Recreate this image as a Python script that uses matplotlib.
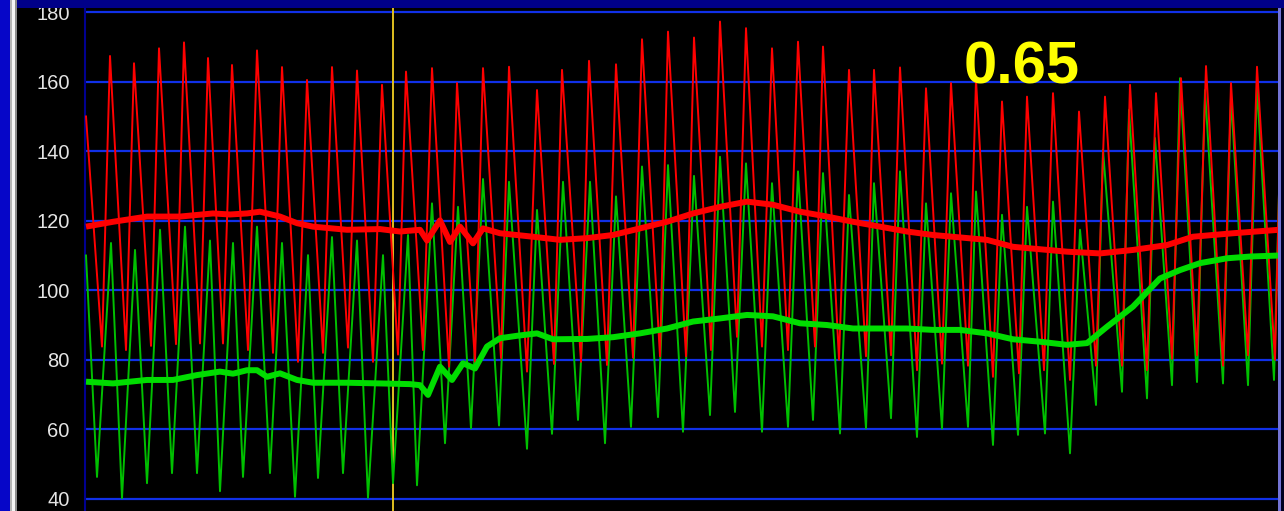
import matplotlib
matplotlib.use("Agg")
import matplotlib.pyplot as plt
from matplotlib.patches import Rectangle

# x positions are in screen-sample units (same as the trace's time axis)
red_x = [86, 102, 110, 126, 134, 151, 159, 176, 184, 200, 208, 223, 232, 248, 257, 273, 282,
         298, 307, 323, 332, 348, 357, 373, 382, 398, 406, 423, 432, 449, 457, 475, 483, 501,
         509, 527, 537, 554, 562, 581, 589, 607, 616, 633, 642, 660, 668, 686, 694, 711, 720,
         737, 746, 762, 772, 788, 798, 815, 823, 839, 849, 866, 874, 891, 900, 917, 926, 942,
         951, 968, 976, 993, 1002, 1019, 1027, 1044, 1053, 1070, 1079, 1096, 1105, 1122, 1130,
         1147, 1156, 1172, 1181, 1197, 1206, 1223, 1231, 1248, 1257, 1275, 1279]
red_y = [150, 83.8, 167.4, 82.8, 165.3, 84.0, 169.6, 84.5, 171.3, 84.7, 166.8, 84.7, 164.8, 82.8,
         169.0, 82.0, 164.2, 79.4, 160.5, 82.0, 164.2, 83.5, 163.2, 79.4, 159.1, 81.5, 162.9,
         82.8, 163.9, 78.0, 159.6, 79.4, 163.9, 80.5, 164.3, 76.6, 157.6, 78.8, 163.4, 79.4,
         166.0, 78.5, 165.0, 80.6, 172.2, 81.0, 174.4, 81.0, 172.7, 82.8, 177.3, 86.6, 175.4,
         83.8, 169.6, 82.8, 171.5, 83.8, 170.1, 80.0, 163.4, 81.0, 163.4, 81.3, 164.1, 77.0,
         158.1, 78.9, 159.6, 78.3, 160.5, 75.1, 154.3, 76.1, 155.7, 77.0, 156.7, 74.2, 151.4,
         78.3, 155.7, 78.3, 159.1, 77.0, 156.7, 80.3, 161.0, 81.3, 164.5, 78.3, 159.6, 81.3,
         164.3, 80.0, 128.0]

green_x = [86, 97, 111, 122, 135, 147, 160, 172, 185, 197, 210, 220, 233, 243, 257, 270, 282,
           295, 308, 318, 332, 343, 357, 368, 383, 393, 408, 417, 432, 445, 458, 471, 483, 499,
           509, 527, 537, 552, 563, 578, 590, 605, 616, 631, 642, 658, 668, 683, 694, 710, 720,
           735, 746, 762, 772, 788, 798, 813, 823, 840, 849, 866, 874, 891, 900, 917, 926, 942,
           951, 968, 976, 993, 1002, 1018, 1027, 1045, 1053, 1070, 1080, 1096, 1103, 1122, 1129,
           1147, 1155, 1172, 1180, 1197, 1205, 1223, 1231, 1248, 1257, 1274, 1279]
green_y = [110, 46.3, 113.6, 40.2, 111.6, 44.5, 117.4, 47.4, 118.3, 47.4, 114.3, 42.2, 113.6,
           46.3, 118.3, 47.4, 113.6, 40.6, 110.1, 46.0, 115.3, 47.4, 114.3, 40.3, 110.1, 44.5,
           115.9, 43.9, 125.0, 56.0, 124.0, 60.3, 132.0, 61.1, 131.2, 54.4, 123.1, 58.7, 131.2,
           62.7, 131.2, 56.0, 127.0, 60.7, 135.6, 63.5, 136.0, 59.3, 132.9, 64.1, 138.4, 65.0,
           136.5, 59.3, 130.8, 60.7, 134.2, 62.7, 133.7, 58.8, 127.4, 60.3, 130.8, 63.2, 134.2,
           57.8, 125.0, 60.2, 127.9, 60.7, 128.4, 55.5, 121.7, 58.4, 124.0, 58.8, 125.5, 53.1,
           117.4, 67.0, 140.4, 70.8, 151.9, 68.9, 143.8, 72.7, 161.0, 73.6, 157.6, 73.2, 155.7,
           72.7, 158.6, 74.2, 128.0]

red_mean_x = [86, 113, 147, 180, 213, 230, 247, 260, 280, 297, 313, 347, 380, 400, 420, 427,
              440, 450, 460, 473, 483, 500, 533, 560, 587, 613, 640, 667, 693, 720, 747, 773,
              800, 827, 853, 880, 907, 933, 960, 987, 1013, 1040, 1067, 1100, 1133, 1167, 1193,
              1233, 1279]
red_mean = [118.3, 119.7, 121.2, 121.2, 122.1, 121.8, 122.1, 122.6, 121.2, 119.3, 118.3, 117.4,
            117.6, 116.9, 117.4, 114.3, 120.1, 113.9, 118.3, 113.5, 117.8, 116.4, 115.4, 114.5,
            115.0, 115.9, 117.8, 119.7, 122.1, 124.0, 125.5, 124.6, 122.6, 121.2, 119.7, 118.3,
            116.9, 115.9, 115.2, 114.5, 112.5, 111.8, 111.1, 110.6, 111.6, 113.0, 115.4, 116.4,
            117.4]

green_mean_x = [86, 113, 147, 173, 197, 220, 233, 247, 257, 267, 280, 297, 313, 347, 380, 410,
                420, 428, 440, 452, 463, 475, 487, 500, 517, 537, 553, 587, 613, 640, 667, 693,
                720, 747, 773, 800, 827, 853, 880, 907, 933, 960, 987, 1013, 1040, 1067, 1087,
                1107, 1133, 1160, 1180, 1200, 1227, 1250, 1279]
green_mean = [73.7, 73.2, 74.2, 74.2, 75.6, 76.6, 76.0, 77.0, 77.0, 75.1, 76.1, 74.2, 73.4, 73.4,
              73.2, 73.0, 72.7, 69.9, 78.0, 74.2, 79.0, 77.5, 83.8, 86.2, 86.9, 87.6, 85.9, 86.0,
              86.5, 87.6, 89.0, 91.0, 91.9, 92.9, 92.5, 90.5, 90.0, 89.0, 89.0, 89.0, 88.6, 88.6,
              87.6, 85.9, 85.2, 84.3, 84.8, 89.5, 95.3, 103.4, 105.8, 107.8, 109.2, 109.7, 110.0]

y_ticks = [40, 60, 80, 100, 120, 140, 160, 180]
marker_x = 393
ratio_label = "0.65"

W, H = 1284, 511
fig = plt.figure(figsize=(W / 100, H / 100), dpi=100, facecolor="black")
ax = fig.add_axes([85 / W, 0, (1278 - 85) / W, 503 / H])
ax.set_facecolor("black")
ax.set_xlim(85, 1278)
ax.set_ylim(36.5, 181.2)

for s in ("top", "right", "bottom"):
    ax.spines[s].set_visible(False)
ax.spines["left"].set_color("#000090")
ax.spines["left"].set_linewidth(1.5)

ax.set_xticks([])
ax.set_yticks(y_ticks)
ax.set_yticklabels([str(t) for t in y_ticks], fontsize=14.5, color="#e4e4e4",
                   family="Liberation Sans")
ax.tick_params(axis="y", length=0, pad=11)
for t in y_ticks:
    ax.axhline(t, color="#1030e8", linewidth=1.6, zorder=1)

ax.axvline(marker_x, color="#e0c020", linewidth=1.4, zorder=2)

ax.plot(green_x, green_y, color="#00c000", linewidth=1.4, zorder=3)
ax.plot(red_x, red_y, color="#ff0000", linewidth=1.4, zorder=4)
ax.plot(green_mean_x, green_mean, color="#00dd00", linewidth=4.3, zorder=5,
        solid_capstyle="butt")
ax.plot(red_mean_x, red_mean, color="#ff0000", linewidth=4.3, zorder=6,
        solid_capstyle="butt")

fig.text(964 / W, (H - 83) / H, ratio_label, color="#ffff00", fontsize=43,
         fontweight="bold", family="Liberation Sans", ha="left", va="baseline")

# window frame pieces
frame = [
    (0, 503, W, 8, "#000088"),
    (0, 0, 10, H, "#0606c8"),
    (10, 0, 2, H, "#b4b4b4"),
    (12, 0, 3, H, "#f4f4f4"),
    (15, 0, 2, H, "#8c8c8c"),
    (1278, 0, 3, 503, "#7474d4"),
    (1281, 0, 3, 503, "#000020"),
]
for x0, y0, w, h, c in frame:
    fig.add_artist(Rectangle((x0 / W, y0 / H), w / W, h / H, transform=fig.transFigure,
                             facecolor=c, edgecolor="none", zorder=10))

fig.savefig("out.png", dpi=100, facecolor="black")
